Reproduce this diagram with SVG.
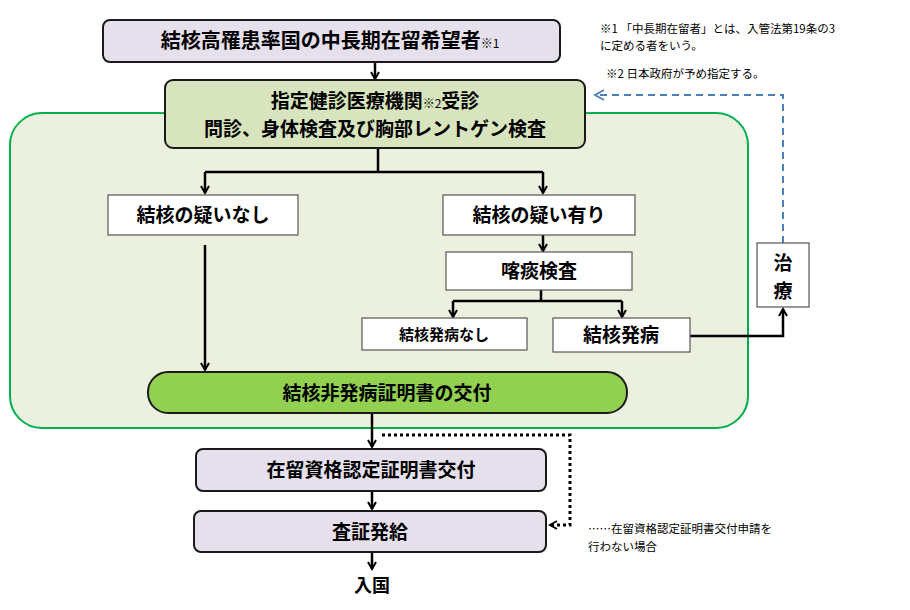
<svg xmlns="http://www.w3.org/2000/svg" width="910" height="610" viewBox="0 0 910 610">
<style>
text{font-family:"Noto Sans CJK JP","Noto Sans",sans-serif;fill:#000}
.lav{fill:#e6e0ec;stroke:#1a1a1a;stroke-width:2}
.wb{fill:#fff;stroke:#555;stroke-width:1.2}
.ln{fill:none;stroke:#000;stroke-width:2.5}
.t{font-size:19px;text-anchor:middle;font-weight:bold}
.n{font-size:11.5px}
</style>
<defs>
<marker id="ah" markerWidth="10" markerHeight="10" refX="8" refY="5" orient="auto" markerUnits="userSpaceOnUse"><path d="M1,1 L8,5 L1,9" fill="none" stroke="#000" stroke-width="2"/></marker>
<marker id="bh" markerWidth="12" markerHeight="12" refX="10" refY="6" orient="auto" markerUnits="userSpaceOnUse"><path d="M1,1 L10,6 L1,11" fill="none" stroke="#4a7ebb" stroke-width="1.8"/></marker>
</defs>
<rect x="10" y="113" width="738" height="315" rx="32" fill="#ebf1de" stroke="#00b050" stroke-width="2"/>
<g id="connectors">
<path class="ln" d="M375,62 V79" marker-end="url(#ah)"/>
<path class="ln" d="M378,148 V172 M205,172 H543"/>
<path class="ln" d="M205,172 V193" marker-end="url(#ah)"/>
<path class="ln" d="M543,172 V193" marker-end="url(#ah)"/>
<path class="ln" d="M543,235 V251" marker-end="url(#ah)"/>
<path class="ln" d="M541,290 V301 M453,301 H622"/>
<path class="ln" d="M453,301 V317" marker-end="url(#ah)"/>
<path class="ln" d="M622,301 V317" marker-end="url(#ah)"/>
<path class="ln" d="M690,336 H783 V309" marker-end="url(#ah)"/>
<path d="M783,243 V95 H595" fill="none" stroke="#4a7ebb" stroke-width="2" stroke-dasharray="7,5" marker-end="url(#bh)"/>
<path class="ln" d="M205,245 V370" marker-end="url(#ah)"/>
<path class="ln" d="M372,413 V447" marker-end="url(#ah)"/>
<path d="M382,435 H570 V525 H550" fill="none" stroke="#000" stroke-width="3" stroke-dasharray="3,3" marker-end="url(#ah)"/>
<path class="ln" d="M372,491 V509" marker-end="url(#ah)"/>
<path class="ln" d="M372,552 V569" marker-end="url(#ah)"/>
</g>
<g id="n1"><rect class="lav" x="103" y="20" width="457" height="42" rx="7"/><text x="330" y="48" class="t" style="font-size:20px">結核高罹患率国の中長期在留希望者<tspan font-size="12" font-weight="normal">※1</tspan></text></g>
<g id="n2"><rect x="165" y="80" width="420" height="68" rx="8" fill="#d7e4bd" stroke="#1a1a1a" stroke-width="2"/><text x="375" y="108" class="t">指定健診医療機関<tspan font-size="12" font-weight="normal">※2</tspan>受診</text><text x="375" y="136" class="t">問診、身体検査及び胸部レントゲン検査</text></g>
<g id="n3"><rect class="wb" x="108" y="195" width="190" height="40"/><text x="203" y="222" class="t">結核の疑いなし</text></g>
<g id="n4"><rect class="wb" x="443" y="195" width="192" height="40"/><text x="539" y="222" class="t">結核の疑い有り</text></g>
<g id="n5"><rect class="wb" x="446" y="252" width="186" height="38"/><text x="539" y="278" class="t">喀痰検査</text></g>
<g id="n6"><rect class="wb" x="362" y="318" width="165" height="32"/><text x="444" y="340" class="t" style="font-size:15px">結核発病なし</text></g>
<g id="n7"><rect class="wb" x="553" y="318" width="137" height="34"/><text x="621" y="342" class="t">結核発病</text></g>
<g id="n8"><rect class="wb" x="757" y="243" width="52" height="64"/><text x="783" y="270" class="t">治</text><text x="783" y="298" class="t">療</text></g>
<g id="n9"><rect x="148" y="372" width="479" height="41" rx="20" fill="#92d050" stroke="#1a1a1a" stroke-width="2"/><text x="387" y="400" class="t">結核非発病証明書の交付</text></g>
<g id="n10"><rect class="lav" x="196" y="449" width="350" height="42" rx="7"/><text x="371" y="477" class="t">在留資格認定証明書交付</text></g>
<g id="n11"><rect class="lav" x="194" y="511" width="352" height="41" rx="7"/><text x="370" y="539" class="t">査証発給</text></g>
<g id="n12"><text x="372" y="592" class="t" style="font-size:18px">入国</text></g>
<g id="notes">
<text x="600" y="33" class="n">※1 「中長期在留者」とは、入管法第19条の3</text>
<text x="600" y="50" class="n">に定める者をいう。</text>
<text x="606" y="78" class="n">※2  日本政府が予め指定する。</text>
<text x="588" y="533" class="n">……在留資格認定証明書交付申請を</text>
<text x="588" y="551" class="n">行わない場合</text>
</g>
</svg>
